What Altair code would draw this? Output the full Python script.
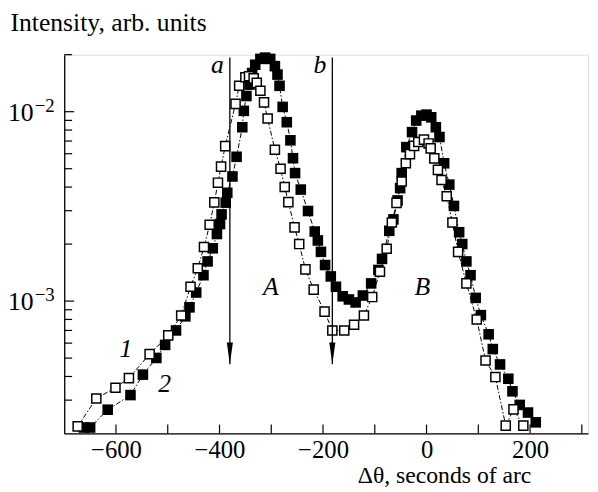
import altair as alt
import pandas as pd

# ---- data ----
s1_x = [-674, -638, -601, -575, -535, -499, -474, -456, -442, -430, -419, -410, -403, -397, -389,
        -369, -362, -350, -343, -334, -328, -321, -314, -307, -293, -282, -274, -267, -255, -246,
        -234, -218, -197, -182, -159, -140, -121, -105, -90, -77, -67, -58, -48, -40, -32,
        -24, -16, -5, 4, 8, 15, 22, 29, 39, 50, 61, 77, 97, 114, 133, 153, 168, 187]
s1_y = [2.18e-4, 3.06e-4, 3.49e-4, 3.92e-4, 5.25e-4, 6.59e-4, 8.4e-4, 1.19e-3, 1.49e-3, 1.93e-3,
        2.53e-3, 3.32e-3, 4.22e-3, 5.13e-3, 6.58e-3, 1.10e-2, 1.37e-2, 1.52e-2, 1.54e-2, 1.5e-2,
        1.42e-2, 1.29e-2, 1.12e-2, 9.2e-3, 6.3e-3, 5.0e-3, 4.0e-3, 3.33e-3, 2.45e-3, 2.0e-3,
        1.47e-3, 1.15e-3, 8.8e-4, 7.0e-4, 7.0e-4, 7.5e-4, 8.4e-4, 1.05e-3, 1.43e-3, 1.89e-3,
        2.6e-3, 3.3e-3, 4.28e-3, 5.34e-3, 5.97e-3, 6.6e-3, 6.92e-3, 7.12e-3, 6.8e-3, 6.4e-3,
        5.67e-3, 4.93e-3, 4.36e-3, 3.58e-3, 2.6e-3, 1.82e-3, 1.24e-3, 8.0e-4, 4.86e-4, 3.97e-4,
        2.2e-4, 2.68e-4, 2.2e-4]

s2_x = [-662, -650, -616, -572, -548, -522, -505, -484, -466, -458, -445, -431, -423, -413, -405,
        -399, -396, -388, -385, -375, -367, -356, -353, -348, -342, -337, -331, -321, -312, -302,
        -293, -288, -284, -278, -270, -263, -258, -254, -243, -229, -216, -210, -204, -196, -185,
        -175, -162, -150, -137, -123, -107, -93, -86, -72, -64, -56, -51, -48, -39, -28, -20,
        -10, 0, 9, 18, 25, 34, 44, 53, 63, 69, 77, 85, 95, 105, 120, 128, 142, 158, 166, 180,
        196, 211]
s2_y = [2.15e-4, 2.15e-4, 2.67e-4, 3.19e-4, 4.09e-4, 5.01e-4, 5.87e-4, 7.0e-4, 8.31e-4, 9.27e-4,
        1.11e-3, 1.37e-3, 1.62e-3, 1.9e-3, 2.26e-3, 2.55e-3, 2.87e-3, 3.31e-3, 3.73e-3, 4.55e-3,
        5.78e-3, 8.28e-3, 1.01e-2, 1.21e-2, 1.39e-2, 1.6e-2, 1.77e-2, 1.9e-2, 1.93e-2, 1.9e-2,
        1.74e-2, 1.57e-2, 1.37e-2, 1.06e-2, 8.8e-3, 7.06e-3, 5.68e-3, 4.74e-3, 3.88e-3, 2.99e-3,
        2.33e-3, 2.09e-3, 1.82e-3, 1.55e-3, 1.35e-3, 1.19e-3, 1.06e-3, 1.02e-3, 9.84e-4, 1.07e-3,
        1.24e-3, 1.46e-3, 1.67e-3, 2.35e-3, 2.7e-3, 3.4e-3, 3.95e-3, 4.74e-3, 6.5e-3, 7.8e-3,
        8.98e-3, 9.53e-3, 9.65e-3, 9.34e-3, 8.28e-3, 7.35e-3, 5.34e-3, 4.12e-3, 3.18e-3, 2.31e-3,
        2.0e-3, 1.62e-3, 1.37e-3, 1.04e-3, 8.43e-4, 6.68e-4, 5.58e-4, 4.63e-4, 3.89e-4, 3.34e-4,
        2.83e-4, 2.58e-4, 2.29e-4]

arrow_x = [-380, -182]
arrow_labels = ["a", "b"]
arrow_top = 1.93e-2
arrow_tip = 4.64e-4
arrow_label_y = 1.6e-2

peak_labels = ["A", "B"]
peak_x = [-301, -8]
peak_y = [1.08e-3, 1.08e-3]

curve_labels = ["1", "2"]
curve_x = [-581, -506]
curve_y = [5.05e-4, 3.32e-4]

x_tick_values = [-600, -500, -400, -300, -200, -100, 0, 100, 200, 300]
x_label_values = [-600, -400, -200, 0, 200]
y_major_ticks = [1e-3, 1e-2]
y_minor_ticks = [3e-4, 4e-4, 5e-4, 6e-4, 7e-4, 8e-4, 9e-4,
                 2e-3, 3e-3, 4e-3, 5e-3, 6e-3, 7e-3, 8e-3, 9e-3, 2e-2]
y_label_exps = ["\u22123", "\u22122"]

FONT = "Liberation Serif"
W, H = 531, 384

d1 = pd.DataFrame({"x": s1_x, "y": s1_y})
d2 = pd.DataFrame({"x": s2_x, "y": s2_y})
darrow = pd.DataFrame({"x": arrow_x, "lab": arrow_labels, "top": arrow_top,
                       "tip": arrow_tip, "ly": arrow_label_y})
dpeak = pd.DataFrame({"x": peak_x, "y": peak_y, "lab": peak_labels})
dcurve = pd.DataFrame({"x": curve_x, "y": curve_y, "lab": curve_labels})
dxt = pd.DataFrame({"x": x_tick_values})
dymaj = pd.DataFrame({"y": y_major_ticks, "e": y_label_exps})
dymin = pd.DataFrame({"y": y_minor_ticks})

xs = alt.Scale(domain=[-700, 312], nice=False, zero=False)
ys = alt.Scale(type="log", domain=[2e-4, 2e-2], nice=False)

X = alt.X("x:Q", scale=xs,
          axis=alt.Axis(values=x_label_values, ticks=False, grid=False,
                        domainColor="black", domainWidth=1.3,
                        labelFont=FONT, labelFontSize=25, labelColor="black",
                        labelBaseline="alphabetic", labelPadding=24,
                        title="\u0394\u03b8, seconds of arc", titleFont=FONT,
                        titleFontSize=24, titleFontWeight="normal", titleColor="black",
                        titleX=297, titleY=50, titleAlign="left",
                        titleBaseline="alphabetic", labelFlush=False))
Y = alt.Y("y:Q", scale=ys,
          axis=alt.Axis(labels=False, ticks=False, grid=False,
                        domainColor="black", domainWidth=1.3,
                        title="Intensity, arb. units", titleFont=FONT,
                        titleFontSize=26, titleFontWeight="normal", titleColor="black",
                        titleAngle=0, titleX=-55, titleY=-25, titleAlign="left",
                        titleBaseline="alphabetic"))

dash = [5, 2, 1.5, 2]
line2 = alt.Chart(d2).mark_line(color="black", strokeWidth=1, strokeDash=dash).encode(x=X, y=Y)
line1 = alt.Chart(d1).mark_line(color="black", strokeWidth=1, strokeDash=dash).encode(x=X, y=Y)
pts2 = alt.Chart(d2).mark_point(shape="square", filled=True, color="black", size=115,
                                opacity=1).encode(x=X, y=Y)
pts1 = alt.Chart(d1).mark_point(shape="square", filled=True, fill="white", stroke="black",
                                strokeWidth=1.5, size=85, opacity=1).encode(x=X, y=Y)

arrow_rule = alt.Chart(darrow).mark_rule(color="black", strokeWidth=1.3).encode(
    x=alt.X("x:Q", scale=xs), y=alt.Y("top:Q", scale=ys), y2="tip:Q")
arrow_head = alt.Chart(darrow).mark_point(
    shape="M-0.28,-2L0,0L0.28,-2Z", filled=True, color="black", size=484, opacity=1
).encode(x=alt.X("x:Q", scale=xs), y=alt.Y("tip:Q", scale=ys))
arrow_text = alt.Chart(darrow).mark_text(
    font=FONT, fontSize=26, fontStyle="italic", align="right", baseline="alphabetic",
    dx=-6, color="black"
).encode(x=alt.X("x:Q", scale=xs), y=alt.Y("ly:Q", scale=ys), text="lab:N")

peak_text = alt.Chart(dpeak).mark_text(
    font=FONT, fontSize=26, fontStyle="italic", align="center", baseline="alphabetic",
    color="black").encode(x=alt.X("x:Q", scale=xs), y=alt.Y("y:Q", scale=ys), text="lab:N")
curve_text = alt.Chart(dcurve).mark_text(
    font=FONT, fontSize=26, fontStyle="italic", align="center", baseline="alphabetic",
    color="black").encode(x=alt.X("x:Q", scale=xs), y=alt.Y("y:Q", scale=ys), text="lab:N")

xticks = alt.Chart(dxt).mark_rule(color="black", strokeWidth=1.2).encode(
    x=alt.X("x:Q", scale=xs), y=alt.value(H), y2=alt.value(H - 9))
ymaj = alt.Chart(dymaj).mark_rule(color="black", strokeWidth=1.2).encode(
    y=alt.Y("y:Q", scale=ys), x=alt.value(0), x2=alt.value(10))
ymin = alt.Chart(dymin).mark_rule(color="black", strokeWidth=1.2).encode(
    y=alt.Y("y:Q", scale=ys), x=alt.value(0), x2=alt.value(8))
ylab_base = alt.Chart(dymaj).mark_text(
    font=FONT, fontSize=26, align="right", baseline="alphabetic", dy=9, color="black",
    text="10").encode(y=alt.Y("y:Q", scale=ys), x=alt.value(-31))
ylab_exp = alt.Chart(dymaj).mark_text(
    font=FONT, fontSize=19, align="left", baseline="alphabetic", dx=1, dy=0,
    color="black").encode(y=alt.Y("y:Q", scale=ys), x=alt.value(-31), text="e:N")

chart = alt.layer(
    line2, line1, pts2, pts1, arrow_rule, arrow_head, arrow_text, peak_text, curve_text,
    xticks, ymaj, ymin, ylab_base, ylab_exp
).properties(
    width=W, height=H,
    autosize=alt.AutoSizeParams(type="none"),
    padding={"left": 57, "top": 44, "right": 2, "bottom": 56},
).configure_view(stroke=None).configure(background="white")

chart.save("out.html", embed_options={"renderer": "svg", "actions": False})
